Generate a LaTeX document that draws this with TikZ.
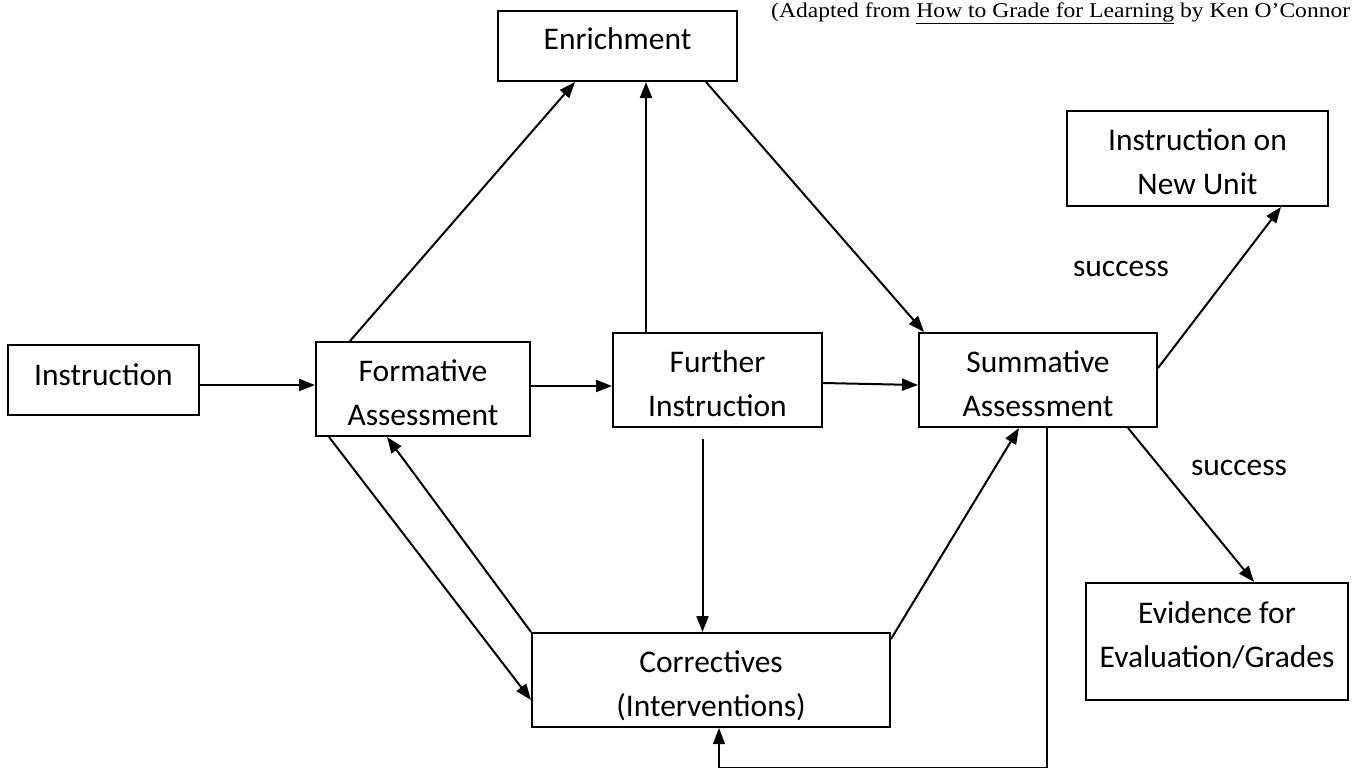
\documentclass[tikz,border=0pt]{standalone}
\usepackage{graphicx}
\usepackage{fontspec}
\setmainfont{Carlito}
\newfontfamily\attrfont{Liberation Serif}
\usetikzlibrary{arrows.meta}
\begin{document}
\begin{tikzpicture}[x=1pt,y=-1pt,
  box/.style={draw,line width=2pt,inner sep=0pt,rectangle},
  txt/.style={font=\fontsize{31.5}{44}\selectfont,align=center,inner sep=0pt},
  arr/.style={line width=2pt,-{Triangle[length=16pt,width=12pt]}},
  thinarr/.style={line width=1.3pt,-{Triangle[length=16pt,width=12pt]}}]
\fill[white] (0,0) rectangle (1353,769);
\useasboundingbox (0,0) rectangle (1353,769);

% boxes
\node[box,minimum width=191pt,minimum height=70pt] (instr) at (103.5,380) {};
\node[box,minimum width=214pt,minimum height=94pt] (form) at (423,389) {};
\node[box,minimum width=209pt,minimum height=94pt] (further) at (717.5,380) {};
\node[box,minimum width=238pt,minimum height=94pt] (summ) at (1038,380) {};
\node[box,minimum width=239pt,minimum height=70pt] (enrich) at (617.5,46) {};
\node[box,minimum width=261pt,minimum height=95pt] (newunit) at (1197.5,158.5) {};
\node[box,minimum width=262pt,minimum height=117pt] (evid) at (1217,641.5) {};
\node[box,minimum width=358pt,minimum height=94pt] (corr) at (711,680) {};

% texts
\node[txt] (instr-t) at (103.5,375) {Instruction};
\node[txt] (enrich-t) at (617.5,39) {Enrichment};
\node[txt] (form-t) at (423,393) {Formative\\Assessment};
\node[txt] (further-t) at (717.5,383.5) {Further\\Instruction};
\node[txt] (summ-t) at (1038,383.5) {Summative\\Assessment};
\node[txt] (corr-t) at (711,685.5) {Correctives\\(Interventions)};
\node[txt] (newunit-t) at (1197.5,161.5) {Instruction on\\New Unit};
\node[txt] (evid-t) at (1217,635.5) {Evidence for\\Evaluation/Grades};
\node[txt] (succ1) at (1121,269) {success};
\node[txt] (succ2) at (1239,468) {success};

\node[anchor=base west,inner sep=0pt,font=\attrfont\fontsize{21}{24}\selectfont] (src) at (771,17)
  {\resizebox{579pt}{\height}{(Adapted from \underline{How to Grade for Learning} by Ken O’Connor}};

% connectors
\draw[arr] ([yshift=-5pt]instr.east) -- ([yshift=-5pt]instr.east -| form.west);
\draw[arr] ([yshift=3pt]form.east) -- ([yshift=3pt]form.east -| further.west);
\draw[arr] ([yshift=-3pt]further.east) -- ([yshift=-5pt]summ.west);
\draw[arr] ([xshift=35pt]form.north west) -- ([xshift=78pt]enrich.south west);
\draw[arr] ([xshift=34pt]further.north west) -- ([xshift=34pt]further.north west |- enrich.south);
\draw[arr] ([xshift=-32pt]enrich.south east) -- ([xshift=6pt]summ.north west);
\draw[arr] ([yshift=12pt]summ.east) -- ([xshift=-48pt]newunit.south east);
\draw[arr] ([xshift=-30pt]summ.south east) -- ([xshift=169pt]evid.north west);
\draw[arr] ([xshift=-15pt,yshift=-11pt]further.south) -- ([xshift=-15pt]further.south |- corr.north);
\draw[arr] ([xshift=14pt]form.south west) -- ([yshift=-20pt]corr.west);
\draw[arr] (corr.north west) -- ([xshift=72pt]form.south west);
\draw[arr] ([yshift=-7pt]corr.north east) -- ([xshift=101pt]summ.south west);
\coordinate (fb) at (1048,767.5);
\draw[thinarr] ([xshift=129pt]summ.south west) -- ([xshift=129pt]summ.south west |- fb) -| ([xshift=8pt]corr.south);
\end{tikzpicture}
\end{document}
